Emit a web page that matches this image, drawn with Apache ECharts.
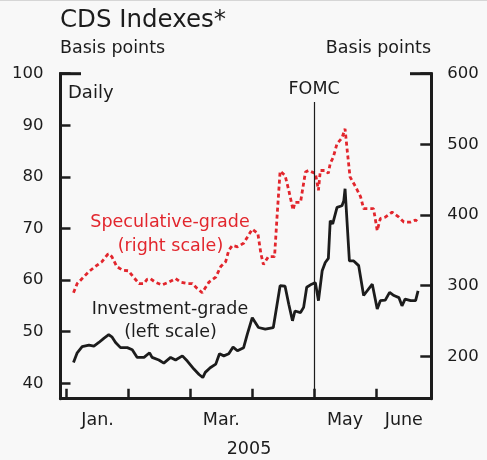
<!DOCTYPE html>
<html>
<head>
<meta charset="utf-8">
<script src="https://cdn.jsdelivr.net/npm/echarts@6.0.0/dist/echarts.min.js"></script>
<style>
  html, body { margin: 0; padding: 0; background: #f8f8f8; }
  #main { width: 487px; height: 460px; }
</style>
</head>
<body>
<div id="main"></div>
<script>
// x positions are months since Jan. 1, 2005 (0 = Jan., 4 = May)
var igMonth = [0.11,0.17,0.25,0.36,0.44,0.52,0.60,0.68,0.73,0.79,0.87,0.98,1.06,1.14,1.25,1.34,1.38,1.49,1.57,1.68,
  1.76,1.87,1.95,2.06,2.14,2.20,2.24,2.32,2.41,2.47,2.54,2.62,2.69,2.76,2.86,2.92,3.00,3.10,3.21,3.34,
  3.45,3.53,3.59,3.61,3.65,3.69,3.78,3.83,3.88,3.96,4.02,4.07,4.13,4.18,4.23,4.26,4.30,4.37,4.45,4.48,
  4.50,4.57,4.64,4.72,4.80,4.94,5.02,5.07,5.15,5.22,5.29,5.37,5.42,5.47,5.56,5.64,5.68];
var igValue = [44.0,45.9,47.1,47.4,47.2,47.9,48.7,49.4,49.0,47.9,46.9,46.9,46.5,45.0,45.0,45.9,45.0,44.5,43.9,45.0,
  44.5,45.3,44.3,42.7,41.7,41.1,42.1,43.0,43.7,45.7,45.3,45.7,47.0,46.3,46.9,49.5,52.7,50.8,50.5,50.8,
  58.9,58.8,55.3,55.6,52.1,54.0,53.7,54.7,58.6,59.2,59.5,56.0,61.8,63.4,64.2,71.5,70.9,74.1,74.4,75.4,
  77.7,63.7,63.7,62.8,57.0,59.2,54.4,56.0,56.1,57.6,57.0,56.6,55.0,56.3,56.0,56.0,57.9];

var sgMonth = [0.11,0.17,0.25,0.36,0.46,0.57,0.67,0.73,0.81,0.90,1.00,1.08,1.17,1.25,1.30,1.35,1.43,1.54,1.65,1.76,
  1.84,1.95,2.03,2.11,2.19,2.30,2.41,2.49,2.57,2.62,2.68,2.76,2.86,2.93,3.00,3.09,3.14,3.18,3.26,3.36,
  3.40,3.45,3.53,3.59,3.66,3.69,3.78,3.86,3.91,3.96,4.02,4.07,4.10,4.18,4.23,4.26,4.31,4.37,4.45,4.50,
  4.54,4.58,4.67,4.75,4.80,4.91,4.96,5.02,5.07,5.15,5.26,5.37,5.45,5.56,5.64,5.68];
var sgValue = [290,303,310,320,327,334,345,341,327,322,321,312,303,303,309,310,305,301,305,310,
  305,303,303,296,290,305,312,327,334,350,357,355,360,370,380,374,345,330,341,341,
  397,462,456,435,407,418,418,461,463,461,459,435,463,463,459,473,482,501,509,522,
  487,454,440,426,409,409,409,378,395,397,404,397,390,390,393,390];

var monthTicks = [0, 1, 2, 3, 4, 5];
var monthLabelPos = [0.5, 2.5, 4.5, 5.45];
var monthLabels = ['Jan.', 'Mar.', 'May', 'June'];
var leftTicks = [40, 50, 60, 70, 80, 90, 100];
var rightTicks = [200, 300, 400, 500, 600];
var fomcMonth = 4.0;

var FONT = 'DejaVu Sans';
var INK = '#1c1c1c';
var RED = '#e2262d';

function pairs(xs, ys) {
  var out = [];
  for (var i = 0; i < xs.length; i++) out.push([xs[i], ys[i]]);
  return out;
}

function txt(s, x, y, align, size, color) {
  return {
    type: 'text', x: x, y: y, silent: true,
    style: {
      text: s, fill: color || INK, fontFamily: FONT, fontSize: size || 17.5,
      textAlign: align || 'left', textVerticalAlign: 'middle'
    }
  };
}

var myChart = echarts.init(document.getElementById('main'), null, { renderer: 'canvas' });

var axisLine = { show: true, onZero: false, lineStyle: { color: INK, width: 3 } };

var option = {
  backgroundColor: '#f8f8f8',
  animation: false,
  grid: { left: 60.5, right: 55.7, top: 73.7, bottom: 61.3, containLabel: false },
  xAxis: {
    type: 'value', min: -0.1, max: 5.894,
    axisLine: axisLine,
    splitLine: { show: false },
    axisTick: { show: true, inside: true, length: 10, customValues: monthTicks,
                lineStyle: { color: INK, width: 2.5 } },
    axisLabel: {
      customValues: monthLabelPos, margin: 13,
      color: INK, fontFamily: FONT, fontSize: 17.5,
      formatter: function (v) {
        for (var i = 0; i < monthLabelPos.length; i++) {
          if (Math.abs(monthLabelPos[i] - v) < 1e-6) return monthLabels[i];
        }
        return '';
      }
    }
  },
  yAxis: [
    {
      type: 'value', position: 'left', min: 37, max: 100,
      axisLine: axisLine, splitLine: { show: false },
      axisTick: { show: true, inside: true, length: 10, customValues: leftTicks,
                  lineStyle: { color: INK, width: 2.5 } },
      axisLabel: { customValues: leftTicks, margin: 17, color: INK, fontFamily: FONT, fontSize: 16.5 }
    },
    {
      type: 'value', position: 'right', min: 140, max: 600,
      axisLine: axisLine, splitLine: { show: false },
      axisTick: { show: true, inside: true, length: 11, customValues: rightTicks,
                  lineStyle: { color: INK, width: 2.5 } },
      axisLabel: { customValues: rightTicks, margin: 16, color: INK, fontFamily: FONT, fontSize: 16.5 }
    }
  ],
  series: [
    {
      name: 'Speculative-grade', type: 'line', yAxisIndex: 1,
      data: pairs(sgMonth, sgValue), showSymbol: false, symbol: 'none',
      lineStyle: { color: RED, width: 2.8, type: [4, 3] }
    },
    {
      name: 'Investment-grade', type: 'line', yAxisIndex: 0,
      data: pairs(igMonth, igValue), showSymbol: false, symbol: 'none',
      lineStyle: { color: INK, width: 2.8 },
      markLine: {
        silent: true, symbol: 'none', animation: false,
        lineStyle: { color: INK, width: 1.2, type: 'solid' },
        label: { show: true, position: 'end', distance: 4, formatter: 'FOMC',
                 color: INK, fontFamily: FONT, fontSize: 17.5 },
        data: [[{ coord: [fomcMonth, 37] }, { coord: [fomcMonth, 94.5] }]]
      }
    }
  ],
  graphic: [
    { type: 'rect', shape: { x: 0, y: 0, width: 487, height: 1 }, style: { fill: '#d6d6d6' }, silent: true },
    // longer caps at the top of both axes
    { type: 'line', shape: { x1: 59, y1: 73.7, x2: 81, y2: 73.7 }, style: { stroke: INK, lineWidth: 3 }, silent: true },
    { type: 'line', shape: { x1: 410, y1: 73.7, x2: 432.8, y2: 73.7 }, style: { stroke: INK, lineWidth: 3 }, silent: true },
    txt('CDS Indexes*', 60, 20.5, 'left', 24.5),
    txt('Basis points', 60, 48, 'left'),
    txt('Basis points', 431, 48, 'right'),
    txt('Daily', 68, 93.5, 'left', 18),
    txt('Speculative-grade', 170, 222.5, 'center', 17.5, RED),
    txt('(right scale)', 170.5, 246.5, 'center', 17.5, RED),
    txt('Investment-grade', 170, 309, 'center'),
    txt('(left scale)', 170.5, 332, 'center'),
    txt('2005', 249, 449, 'center')
  ]
};

myChart.setOption(option);
</script>
</body>
</html>
